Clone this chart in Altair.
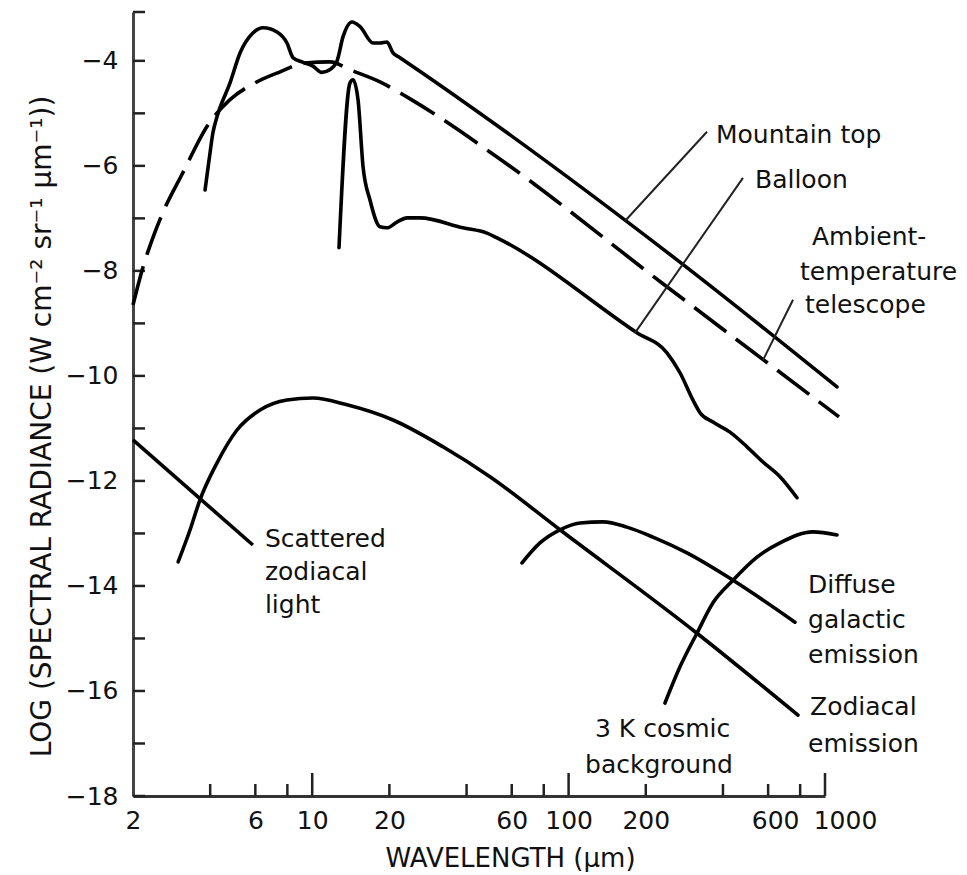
import altair as alt
import pandas as pd

# ---------------- data (wavelength in micrometres, log spectral radiance) ----------------
mt_wl = [3.82, 3.96, 4.10, 4.25, 4.78, 5.23, 5.87, 6.43, 7.29, 7.97, 8.42, 9.12, 10.07,
         10.9, 11.7, 12.50, 13.19, 14.30, 15.37, 17.27, 18.38, 19.57, 20.66, 22.0, 264.7, 1114]
mt_lr = [-6.46, -5.89, -5.37, -5.07, -4.42, -3.85, -3.47, -3.37, -3.45, -3.66, -3.94, -4.02, -4.10,
         -4.22, -4.17, -4.00, -3.54, -3.26, -3.35, -3.66, -3.66, -3.64, -3.85, -3.94, -7.79, -10.21]

bl_wl = [12.72, 14.04, 14.43, 15.09, 15.79, 16.80, 18.38, 19.57, 21.41, 23.43, 26.32, 38.73, 48.05,
         52.57, 184.8, 241.9, 271.9, 305.6, 325.4, 365.7, 426.0, 496.3, 573.1, 667.5, 777.6]
bl_lr = [-7.56, -4.42, -4.36, -4.74, -6.02, -6.65, -7.16, -7.18, -7.07, -6.99, -6.99, -7.18, -7.28,
         -7.37, -9.18, -9.56, -9.94, -10.46, -10.70, -10.88, -11.07, -11.35, -11.64, -11.92, -12.32]

tel_wl = [2.0, 2.19, 2.39, 2.62, 3.10, 3.92, 4.78, 5.98, 7.49, 9.37, 11.73, 14.04, 18.38, 23.64,
          52.57, 231.3, 1134]
tel_lr = [-8.65, -7.92, -7.37, -6.88, -6.17, -5.22, -4.74, -4.42, -4.21, -4.04, -4.02, -4.17, -4.40,
          -4.70, -5.83, -8.23, -10.78]

ze_wl = [3.00, 3.34, 3.65, 4.25, 5.09, 6.26, 7.97, 10.07, 13.67, 20.66, 32.36, 49.35, 92.5, 316.7, 784.6]
ze_lr = [-13.54, -12.93, -12.36, -11.66, -11.03, -10.65, -10.46, -10.42, -10.55, -10.84, -11.35,
         -11.92, -12.93, -14.90, -16.46]

sz_wl = [2.0, 5.87]
sz_lr = [-11.22, -13.22]

dg_wl = [65.8, 77.3, 92.5, 110.8, 136.2, 168.9, 213.4, 289.5, 437.7, 763.8]
dg_lr = [-13.56, -13.18, -12.93, -12.80, -12.78, -12.88, -13.07, -13.37, -13.89, -14.69]

cb_wl = [237.6, 271.9, 316.7, 365.7, 437.7, 543.0, 667.5, 897.7, 1114]
cb_lr = [-16.23, -15.54, -14.90, -14.32, -13.89, -13.45, -13.18, -12.97, -13.03]

# leader lines from labels to curves
ld_wl = [346.6, 478.7, 750.3]
ld_lr = [-5.35, -6.23, -8.55]
ld_wl2 = [165.9, 181.5, 573.1]
ld_lr2 = [-7.05, -9.18, -9.70]

# curve labels
lab_text = ["Mountain top", "Balloon", "Ambient-", "temperature", "telescope",
            "Scattered", "zodiacal", "light",
            "Diffuse", "galactic", "emission",
            "Zodiacal", "emission",
            "3 K cosmic", "background"]
lab_wl = [375.7, 533.3, 889.8, 798.7, 835.4,
          6.54, 6.54, 6.54,
          858.6, 858.6, 858.6,
          874.2, 858.6,
          126.7, 115.9]
lab_lr = [-5.56, -6.42, -7.50, -8.17, -8.80,
          -13.26, -13.89, -14.51,
          -14.13, -14.80, -15.47,
          -16.46, -17.16,
          -16.88, -17.56]

# axes
x_domain = [2, 1000]
y_top = -3.07
y_domain = [-18, y_top]
x_label_vals = [2, 6, 10, 20, 60, 100, 200, 600, 1000]
x_major_ticks = [10, 100, 1000]
x_minor_ticks = [4, 6, 8, 20, 40, 60, 80, 200, 400, 600, 800]
y_label_vals = [-18, -16, -14, -12, -10, -8, -6, -4]
y_ticks = list(range(-18, -3)) + [y_top]

# ---------------- build tables ----------------
def series(name, wl, lr):
    return pd.DataFrame({"series": name, "wl": wl, "lr": lr})

solid = pd.concat([
    series("Mountain top", mt_wl, mt_lr),
    series("Balloon", bl_wl, bl_lr),
    series("Zodiacal emission", ze_wl, ze_lr),
    series("Diffuse galactic emission", dg_wl, dg_lr),
    series("3 K cosmic background", cb_wl, cb_lr),
], ignore_index=True)
dashed = series("Ambient-temperature telescope", tel_wl, tel_lr)
scat = series("Scattered zodiacal light", sz_wl, sz_lr)
leaders = pd.DataFrame({"wl": ld_wl, "lr": ld_lr, "wl2": ld_wl2, "lr2": ld_lr2})
labels = pd.DataFrame({"text": lab_text, "wl": lab_wl, "lr": lab_lr})

W, H = 692, 784
FONT = "DejaVu Sans"

xscale = alt.Scale(type="log", domain=x_domain, nice=False)
yscale = alt.Scale(domain=y_domain, nice=False, zero=False)

xaxis = alt.Axis(
    values=x_label_vals, format="d", grid=False, ticks=False, tickSize=0,
    domainColor="#333", domainWidth=3,
    labelFont=FONT, labelFontSize=25, labelColor="#111", labelPadding=12,
    labelOffset={"condition": [{"test": "datum.value >= 1000", "value": 20},
                               {"test": "datum.value >= 600", "value": 7}], "value": 0},
    labelFlush=False, labelOverlap=False,
    title="WAVELENGTH (μm)", titleFont=FONT, titleFontSize=26, titleFontWeight="normal",
    titleColor="#111", titleX=377, titleY=70, titleBaseline="alphabetic", titleAlign="center",
)
yaxis = alt.Axis(
    values=y_label_vals, grid=False, ticks=False, tickSize=0,
    domainColor="#444", domainWidth=3,
    labelFont=FONT, labelFontSize=25, labelColor="#111", labelPadding=15,
    labelFlush=False, labelOverlap=False,
    title="LOG (SPECTRAL RADIANCE (W cm⁻² sr⁻¹ μm⁻¹))",
    titleFont=FONT, titleFontSize=28, titleFontWeight="normal", titleColor="#111",
    titleX=-83, titleY=414, titleBaseline="alphabetic", titleAlign="center", titleAngle=270,
)

def X(field="wl"):
    return alt.X(f"{field}:Q", scale=xscale, axis=xaxis)

def Y(field="lr"):
    return alt.Y(f"{field}:Q", scale=yscale, axis=yaxis)

solid_layer = alt.Chart(solid).mark_line(
    color="black", strokeWidth=3.6, interpolate="monotone", strokeCap="round"
).encode(x=X(), y=Y(), detail="series:N")

dashed_layer = alt.Chart(dashed).mark_line(
    color="black", strokeWidth=3.6, interpolate="monotone", strokeDash=[40, 12]
).encode(x=X(), y=Y())

scat_layer = alt.Chart(scat).mark_line(color="black", strokeWidth=3.6).encode(x=X(), y=Y())

leader_layer = alt.Chart(leaders).mark_rule(color="#222", strokeWidth=2).encode(
    x=X(), y=Y(), x2="wl2:Q", y2="lr2:Q")

label_layer = alt.Chart(labels).mark_text(
    align="left", baseline="alphabetic", font=FONT, fontSize=25, color="#111"
).encode(x=X(), y=Y(), text="text:N")

ytick_layer = alt.Chart(pd.DataFrame({"v": y_ticks})).mark_rule(color="#222", strokeWidth=2.5).encode(
    y=Y("v"), x=alt.value(0), x2=alt.value(12))

xmajor_layer = alt.Chart(pd.DataFrame({"v": x_major_ticks})).mark_rule(color="#222", strokeWidth=2.5).encode(
    x=X("v"), y=alt.value(H), y2=alt.value(H - 23))

xminor_layer = alt.Chart(pd.DataFrame({"v": x_minor_ticks})).mark_rule(color="#222", strokeWidth=2.5).encode(
    x=X("v"), y=alt.value(H), y2=alt.value(H - 12))

chart = alt.layer(
    ytick_layer, xmajor_layer, xminor_layer,
    solid_layer, dashed_layer, scat_layer, leader_layer, label_layer,
).properties(
    width=W, height=H,
    autosize=alt.AutoSizeParams(type="none"),
    padding={"left": 125, "top": 4, "right": 134, "bottom": 76},
    background="white",
).configure_view(stroke=None)

chart.save("out.html", embed_options={"renderer": "svg", "actions": False})
